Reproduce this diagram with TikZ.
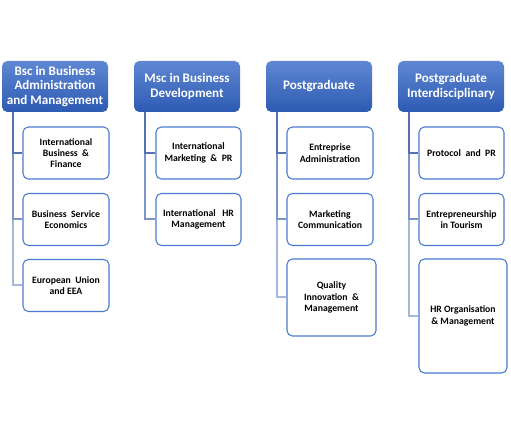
\documentclass[tikz,border=0pt]{standalone}
\usepackage{fontspec}
\setmainfont{Carlito}
\definecolor{hdtop}{HTML}{5F87D2}
\definecolor{hdbot}{HTML}{2D5BB3}
\definecolor{chborder}{HTML}{4A7BD0}
\definecolor{lnA}{HTML}{5572B0}
\definecolor{lnB}{HTML}{7C94C6}
\definecolor{lnC}{HTML}{A7B7D8}
\begin{document}
\begin{tikzpicture}[x=0.75pt,y=-0.75pt]
\tikzset{
 head/.style={rectangle, rounded corners=4pt, top color=hdtop, bottom color=hdbot, draw=none, text=white,
   font=\bfseries\fontsize{9.8}{10.6}\selectfont, align=center, minimum width=79.5pt, minimum height=38.25pt, inner sep=0pt},
 child/.style={rectangle, rounded corners=4pt, draw=chborder, line width=0.8pt, fill=white,
   font=\bfseries\fontsize{7.3}{8.5}\selectfont, align=center, inner sep=0pt, minimum height=39pt},
 cw/.style={minimum width=64.5pt},
 conn/.style={line width=1.5pt},
}
\useasboundingbox (0,0) rectangle (511,434);
% headers
\node[head] (h1) at (55,86.5) {Bsc in Business\\Administration\\and Management};
\node[head] (h2) at (187,86.5) {Msc in Business\\Development};
\node[head] (h3) at (319,86.5) {Postgraduate};
\node[head] (h4) at (451,86.5) {Postgraduate\\Interdisciplinary};
% column 1
\node[child,cw] (c11) at (66,153) {International\\Business \ \&\\Finance};
\node[child,cw] (c12) at (66,219.5) {Business \ Service\\Economics};
\node[child,cw] (c13) at (66,285.5) {European \ Union\\and EEA};
% column 2
\node[child,minimum width=63.75pt] (c21) at (198.5,153) {International\\Marketing \ \& \ PR};
\node[child,minimum width=63.75pt] (c22) at (198.5,219.5) {International \ \ HR\\Management};
% column 3
\node[child,cw] (c31) at (330,153) {Entreprise\\Administration};
\node[child,cw] (c32) at (330,219.5) {Marketing\\Communication};
\node[child,minimum width=66.75pt,minimum height=57.75pt] (c33) at (331.5,297.5) {Quality\\Innovation \ \&\\Management};
% column 4
\node[child,minimum width=63.75pt] (c41) at (461.5,153) {Protocol \ and \ PR};
\node[child,minimum width=63.75pt] (c42) at (461.5,219.5) {Entrepreneurship\\in Tourism};
\node[child,minimum width=66pt,minimum height=85.5pt] (c43) at (463,316) {HR Organisation\\\& Management};
% connectors (lightest / longest first)
\foreach \h/\a/\b/\c in {h1/c11/c12/c13, h3/c31/c32/c33, h4/c41/c42/c43}{
  \draw[conn,lnC] ([xshift=8.25pt]\h.south west) |- (\c.west);
  \draw[conn,lnB] ([xshift=8.25pt]\h.south west) |- (\b.west);
  \draw[conn,lnA] ([xshift=8.25pt]\h.south west) |- (\a.west);
}
\draw[conn,lnB] ([xshift=8.25pt]h2.south west) |- (c22.west);
\draw[conn,lnA] ([xshift=8.25pt]h2.south west) |- (c21.west);
\end{tikzpicture}
\end{document}
